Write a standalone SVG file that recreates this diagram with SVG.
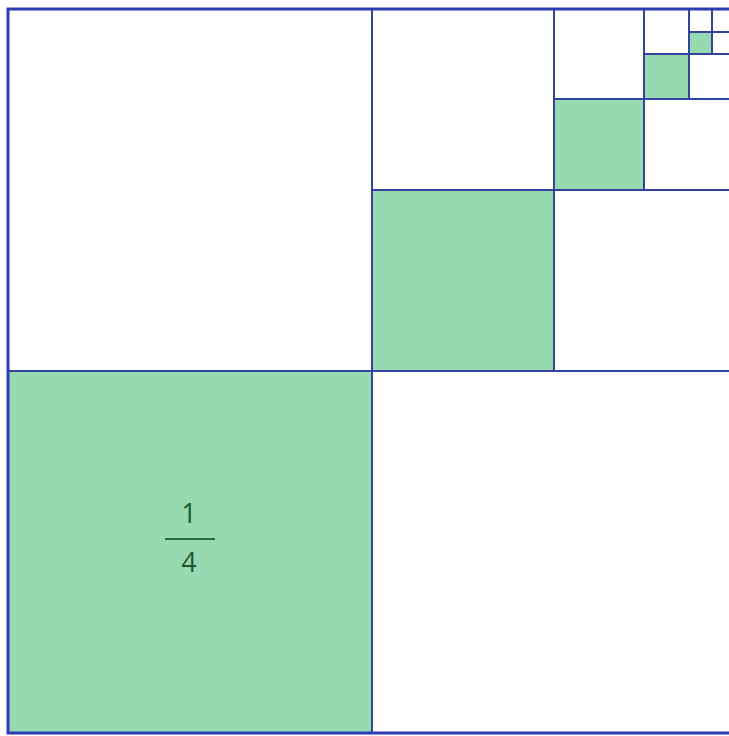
<svg xmlns="http://www.w3.org/2000/svg" width="729" height="736" viewBox="0 0 729 736">
<style>
.g{fill:#97d9b0;stroke:none}
.ln{stroke:#34449c;stroke-width:2;fill:none}
.t{font-family:"Open Sans","Liberation Sans",sans-serif;font-size:27px;fill:#1d5a30;text-anchor:middle}
</style>
<rect width="729" height="736" fill="#ffffff"/>
<g id="fills">
<rect class="g" x="8" y="371" width="364" height="362"/>
<rect class="g" x="372" y="190" width="182" height="181"/>
<rect class="g" x="554" y="99" width="90" height="91"/>
<rect class="g" x="644" y="54" width="45" height="45"/>
<rect class="g" x="689" y="32" width="23" height="22"/>
</g>
<g id="connectors">
<line class="ln" x1="372" y1="9" x2="372" y2="733"/>
<line class="ln" x1="8" y1="371" x2="736" y2="371"/>
<line class="ln" x1="554" y1="9" x2="554" y2="371"/>
<line class="ln" x1="372" y1="190" x2="736" y2="190"/>
<line class="ln" x1="644" y1="9" x2="644" y2="190"/>
<line class="ln" x1="554" y1="99" x2="736" y2="99"/>
<line class="ln" x1="689" y1="9" x2="689" y2="99"/>
<line class="ln" x1="644" y1="54" x2="736" y2="54"/>
<line class="ln" x1="712" y1="9" x2="712" y2="54"/>
<line class="ln" x1="689" y1="32" x2="736" y2="32"/>
</g>
<g id="outer">
<rect x="8" y="9" width="730" height="724" fill="none" stroke="#2a3db3" stroke-width="3"/>
</g>
<g id="label">
<text class="t" x="189" y="523">1</text>
<line x1="165" y1="539" x2="215" y2="539" stroke="#2a6a3e" stroke-width="2"/>
<text class="t" x="189" y="572">4</text>
</g>
</svg>
